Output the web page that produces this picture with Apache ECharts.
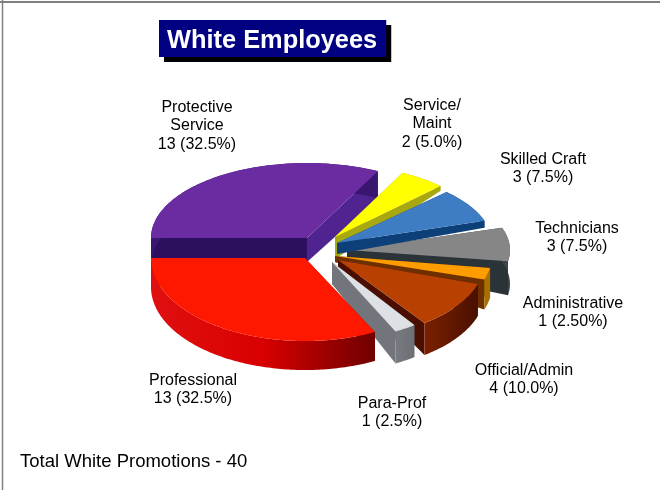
<!DOCTYPE html>
<html>
<head>
<meta charset="utf-8">
<style>html,body{margin:0;padding:0;background:#fff}#chart{width:660px;height:490px}</style>
<script src="https://cdn.jsdelivr.net/npm/echarts@6/dist/echarts.min.js"></script>
</head>
<body>
<div id="chart"></div>
<script>
const titleText = 'White Employees';
const footerText = 'Total White Promotions - 40';
const categories = ['Protective\nService', 'Service/\nMaint', 'Skilled Craft', 'Technicians', 'Administrative', 'Official/Admin', 'Para-Prof', 'Professional'];
const counts = [13, 2, 3, 3, 1, 4, 1, 13];
const percentLabels = ['32.5%', '5.0%', '7.5%', '7.5%', '2.50%', '10.0%', '2.5%', '32.5%'];

// styling & layout, separate from the data
const startAngle = 180;
const paintOrder = [0, 1, 3, 2, 4, 5, 6, 7];
const sliceShape = [
  {cx:307,cy:238,rx:156,ry:75,d:27,ad:24},
  {cx:335,cy:237,rx:149,ry:72,d:5,ad:22},
  {cx:337,cy:243,rx:155,ry:72,d:7,ad:11},
  {cx:347,cy:250,rx:163,ry:72,d:34,ad:12},
  {cx:335,cy:256,rx:157,ry:76,d:30,ad:6},
  {cx:338,cy:260,rx:147,ry:78,d:32,ad:8},
  {cx:332,cy:262,rx:140,ry:78,d:32,ad:22},
  {cx:305,cy:258,rx:154,ry:83,d:29,ad:10}
];
const sliceColors = [
  {top:'#6a2ca0',startWall:'#2c0f5e',endWall:'#4f2390',arc:['#3a1670','#3a1670']},
  {top:'#ffff00',startWall:'#a8a800',endWall:'#a8a810',arc:['#a8a800','#a8a800']},
  {top:'#3e7cc4',startWall:'#0d3f78',endWall:'#0d3f78',arc:['#0d3f78','#0d3f78']},
  {top:'#868686',startWall:'#2a3338',endWall:'#2a3338',arc:['#3c4448','#3c4448']},
  {top:'#ff9c00',startWall:'#7a3c00',endWall:'#6e3000',arc:['#a87000','#a87000']},
  {top:'#b84000',startWall:'#4a0f00',endWall:'#4a0f00',arc:['#7a2000','#4a1000']},
  {top:'#dde0e4',startWall:'#72767c',endWall:'#72767c',arc:['#777a80','#6c6f74']},
  {top:'#ff1800',startWall:'#a00000',endWall:'#a00000',arc:['#e01010','#d80000','#700000']}
];
const labelAnchors = [[197,98],[432,96],[543,150],[577,219],[573,294],[524,361],[392,394],[193,371]];

const total = counts.reduce((a, b) => a + b, 0);
const startOf = counts.map((_, i) => startAngle - counts.slice(0, i).reduce((a, b) => a + b, 0) / total * 360);

function renderSlice(params, api) {
  const idx = api.value(1);
  const s = sliceShape[idx], c = sliceColors[idx];
  const a0 = startOf[idx], a1 = a0 - api.value(0) / total * 360;
  const pt = a => [s.cx + s.rx * Math.cos(a * Math.PI / 180), s.cy - s.ry * Math.sin(a * Math.PI / 180)];
  const rim = [];
  const n = Math.max(4, Math.ceil(a0 - a1));
  for (let k = 0; k <= n; k++) rim.push(pt(a0 + (a1 - a0) * k / n));
  const first = rim[0], last = rim[rim.length - 1];
  const poly = (points, fill) => ({type: 'polygon', shape: {points}, style: {fill, stroke: null}, silent: true});
  const lower = p => [p[0], p[1] + s.d];
  const stops = c.arc.map((color, i) => ({offset: i / (c.arc.length - 1), color}));
  const arcFill = new echarts.graphic.LinearGradient(0, 0, 1, 0, stops);
  return {
    type: 'group',
    children: [
      poly([[s.cx, s.cy], first, lower(first), [s.cx, s.cy + s.ad]], c.startWall),
      poly([[s.cx, s.cy], last, lower(last), [s.cx, s.cy + s.ad]], c.endWall),
      poly(rim.concat(rim.map(lower).reverse()), arcFill),
      poly([[s.cx, s.cy]].concat(rim), c.top)
    ]
  };
}

const chart = echarts.init(document.getElementById('chart'), null, {renderer: 'canvas'});
const textFont = '16px "Liberation Sans", Arial, sans-serif';
chart.setOption({
  animation: false,
  backgroundColor: '#ffffff',
  title: {
    text: titleText, left: 159, top: 20,
    padding: [7, 9, 3, 8],
    backgroundColor: '#000080',
    borderWidth: 0,
    shadowColor: '#000000', shadowBlur: 0, shadowOffsetX: 5, shadowOffsetY: 5,
    textStyle: {color: '#ffffff', fontFamily: '"Liberation Sans", Arial, sans-serif', fontWeight: 'bold', fontSize: 25.4, lineHeight: 27}
  },
  xAxis: {show: false}, yAxis: {show: false},
  series: [{
    type: 'custom',
    coordinateSystem: 'none',
    silent: true,
    renderItem: renderSlice,
    data: paintOrder.map(i => ({name: categories[i].replace('\n', ' '), value: [counts[i], i]}))
  }],
  graphic: [
    {type: 'line', silent: true, shape: {x1: 0, y1: 2, x2: 660, y2: 2}, style: {stroke: '#808080', lineWidth: 2}},
    {type: 'line', silent: true, shape: {x1: 2.5, y1: 0, x2: 2.5, y2: 490}, style: {stroke: '#808080', lineWidth: 1.5}},
    ...categories.map((name, i) => ({
      type: 'text', silent: true, x: labelAnchors[i][0], y: labelAnchors[i][1],
      style: {text: name + '\n' + counts[i] + ' (' + percentLabels[i] + ')', font: textFont, fill: '#000', align: 'center', verticalAlign: 'top', lineHeight: 18.5}
    })),
    {type: 'text', silent: true, x: 20, y: 452, style: {text: footerText, font: '18.5px "Liberation Sans", Arial, sans-serif', fill: '#000', align: 'left', verticalAlign: 'top'}}
  ]
});
</script>
</body>
</html>
